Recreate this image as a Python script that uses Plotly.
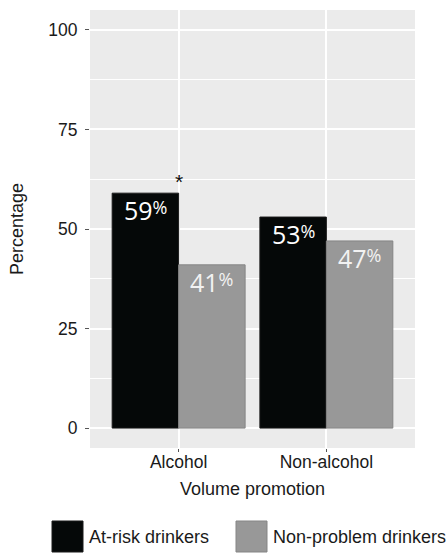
import plotly.graph_objects as go

categories = ["Alcohol", "Non-alcohol"]
series_names = ["At-risk drinkers", "Non-problem drinkers"]
at_risk = [59, 53]
non_problem = [41, 47]
y_ticks = [0, 25, 50, 75, 100]
significance = ["*", ""]

colors = ["#050808", "#989898"]
edge_colors = ["#1a1a1a", "#858585"]
label_colors = ["#ffffff", "#f2f2f2"]

SANS = "Liberation Sans"
LABEL_FONT = "Open Sans"

fig = go.Figure()
for name, vals, c, ec in zip(series_names, [at_risk, non_problem], colors, edge_colors):
    fig.add_trace(go.Bar(
        x=categories, y=vals, name=name,
        marker=dict(color=c, line=dict(color=ec, width=1)),
        showlegend=False, hoverinfo="x+y+name",
    ))

# value labels inside the top of each bar (dodged position = category index +/- quarter of group width)
group_width = 0.9
n_series = 2
bar_w = group_width / n_series
for s, (vals, lc) in enumerate(zip([at_risk, non_problem], label_colors)):
    for i, v in enumerate(vals):
        xpos = i - group_width / 2 + bar_w * (s + 0.5)
        fig.add_annotation(
            x=xpos, y=v, yanchor="top", xanchor="center", yshift=2,
            text=f"{v}<span style='font-size:18px;baseline-shift:6.5px'>%</span>",
            showarrow=False,
            font=dict(family=LABEL_FONT, size=25, color=lc),
        )

# significance markers above the first series
for i, (s, v) in enumerate(zip(significance, at_risk)):
    if s:
        fig.add_annotation(x=i, y=v, text=s, showarrow=False,
                           yanchor="bottom", yshift=-2,
                           font=dict(family=SANS, size=21, color="#111"))

# manual legend (large keys)
leg_x = [52, 236]
for i, (name, c, ec) in enumerate(zip(series_names, colors, edge_colors)):
    fig.add_shape(type="rect", xref="paper", yref="paper",
                  x0=(leg_x[i] - 90) / 325, x1=(leg_x[i] + 31 - 90) / 325,
                  y0=(448 - 552) / 438, y1=(448 - 521) / 438,
                  fillcolor=c, line=dict(color=ec, width=1))
    fig.add_annotation(xref="paper", yref="paper",
                       x=(leg_x[i] + 35 - 90) / 325, y=(448 - 536.5) / 438,
                       xanchor="left", yanchor="middle", text=name, showarrow=False,
                       font=dict(family=SANS, size=18, color="#1a1a1a"))

fig.update_layout(
    width=448, height=556,
    margin=dict(l=90, r=33, t=10, b=108),
    paper_bgcolor="white", plot_bgcolor="#EBEBEB",
    barmode="group", bargap=0.1, bargroupgap=0,
    font=dict(family=SANS, size=17.5, color="#1a1a1a"),
    showlegend=False,
)
fig.update_xaxes(
    range=[-0.6, 1.6], showgrid=True, gridcolor="white", gridwidth=2,
    ticks="outside", ticklen=3, tickcolor="#555", tickwidth=1,
    ticklabelstandoff=-5,
    title=dict(text="Volume promotion", standoff=11, font=dict(size=18)),
    zeroline=False, automargin=False,
)
fig.update_yaxes(
    range=[-5, 105], tickvals=y_ticks, showgrid=True, gridcolor="white", gridwidth=2,
    minor=dict(dtick=12.5, tick0=12.5, showgrid=True, gridcolor="white", gridwidth=1),
    ticks="outside", ticklen=4, tickcolor="#555", tickwidth=1,
    ticklabelstandoff=4,
    title=dict(text="Percentage", standoff=19, font=dict(size=18)),
    zeroline=False, automargin=False,
)

fig.write_html("out.html")
